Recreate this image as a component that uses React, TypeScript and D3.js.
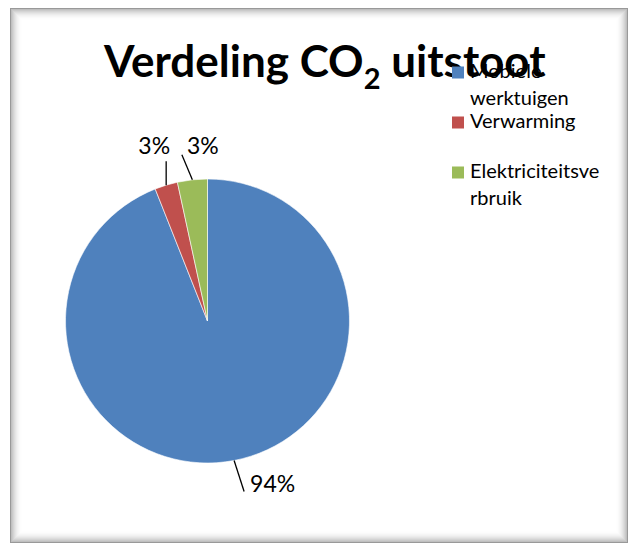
import React, { useEffect, useRef } from "react";
import * as d3 from "d3";

const categories = ["Mobiele werktuigen", "Verwarming", "Elektriciteitsverbruik"];
const values = [94.0, 2.6, 3.4];
const percentLabels = ["94%", "3%", "3%"];
const colors = ["#4f81bd", "#c0504d", "#9bbb59"];
// legend text as wrapped by the original chart
const legendLines = [["Mobiele", "werktuigen"], ["Verwarming"], ["Elektriciteitsve", "rbruik"]];

const App: React.FC = () => {
  const svgRef = useRef<SVGSVGElement | null>(null);

  useEffect(() => {
    drawChart();
  }, []);

  const drawChart = () => {
    const svg = d3.select(svgRef.current);
    svg.selectAll("*").remove();

    const width = 630;
    const height = 544;
    const font = "Lato, 'Open Sans', sans-serif";

    svg.append("rect").attr("width", width).attr("height", height).attr("fill", "#fff");

    // frame with soft inner shadow
    const frame = { x: 10, y: 8, w: 618, h: 535 };
    const frameG = svg.append("g");
    for (let i = 0; i < 12; i++) {
      const t = 1 - i / 12;
      frameG
        .append("rect")
        .attr("x", frame.x + i + 0.5)
        .attr("y", frame.y + i + 0.5)
        .attr("width", frame.w - 2 * i - 1)
        .attr("height", frame.h - 2 * i - 1)
        .attr("fill", "none")
        .attr("stroke", "#000")
        .attr("stroke-opacity", i === 0 ? 0.4 : 0.3 * t * t);
    }

    // pie
    const cx = 207.5;
    const cy = 321;
    const radius = 142;

    const pie = d3
      .pie<number>()
      .sort(null)
      .value((d) => d);
    const arcs = pie(values);
    const arc = d3.arc<d3.PieArcDatum<number>>().innerRadius(0).outerRadius(radius);

    const g = svg.append("g").attr("transform", `translate(${cx},${cy})`);
    g.selectAll("path.slice")
      .data(arcs)
      .enter()
      .append("path")
      .attr("class", "slice")
      .attr("d", arc)
      .attr("fill", (d, i) => colors[i])
      .attr("stroke", "#fff")
      .attr("stroke-width", 0.6);

    // leader lines and data labels
    const leader = [
      { dx: 10, dy: 31, tx: 6, ty: 1, anchor: "start" },
      { dx: 0, dy: -24, tx: -12, ty: -7, anchor: "middle" },
      { dx: -10.5, dy: -25, tx: 5, ty: -1, anchor: "start" },
    ];
    arcs.forEach((d, i) => {
      const mid = (d.startAngle + d.endAngle) / 2;
      const px = radius * Math.sin(mid);
      const py = -radius * Math.cos(mid);
      const ex = px + leader[i].dx;
      const ey = py + leader[i].dy;
      g.append("line")
        .attr("x1", px)
        .attr("y1", py)
        .attr("x2", ex)
        .attr("y2", ey)
        .attr("stroke", "#000")
        .attr("stroke-width", 1.3);
      g.append("text")
        .attr("x", ex + leader[i].tx)
        .attr("y", ey + leader[i].ty)
        .attr("text-anchor", leader[i].anchor)
        .attr("font-family", font)
        .attr("font-size", 23)
        .attr("fill", "#000")
        .text(percentLabels[i]);
    });

    // title
    const title = svg
      .append("text")
      .attr("x", 104)
      .attr("y", 77)
      .attr("font-family", font)
      .attr("font-weight", "bold")
      .attr("font-size", 44)
      .attr("fill", "#000");
    title.append("tspan").text("Verdeling CO");
    title.append("tspan").attr("font-size", 29).attr("dy", 12).text("2");
    title.append("tspan").attr("dy", -12).text(" uitstoot");

    // legend
    const legend = svg.append("g").attr("transform", "translate(452,78)");
    const item = legend
      .selectAll("g.item")
      .data(categories)
      .enter()
      .append("g")
      .attr("class", "item")
      .attr("transform", (d, i) => `translate(0,${i * 50})`);
    item
      .append("rect")
      .attr("x", 0)
      .attr("y", -11.5)
      .attr("width", 12)
      .attr("height", 12)
      .attr("fill", (d, i) => colors[i]);
    item
      .append("text")
      .attr("font-family", font)
      .attr("font-size", 20)
      .attr("fill", "#000")
      .selectAll("tspan")
      .data((d, i) => legendLines[i])
      .enter()
      .append("tspan")
      .attr("x", 18)
      .attr("y", (d, j) => j * 27)
      .text((d) => d);
  };

  return (
    <svg
      ref={svgRef}
      width="630"
      height="544"
      style={{ position: "absolute", left: 0, top: 0 }}
    ></svg>
  );
};

export default App;
